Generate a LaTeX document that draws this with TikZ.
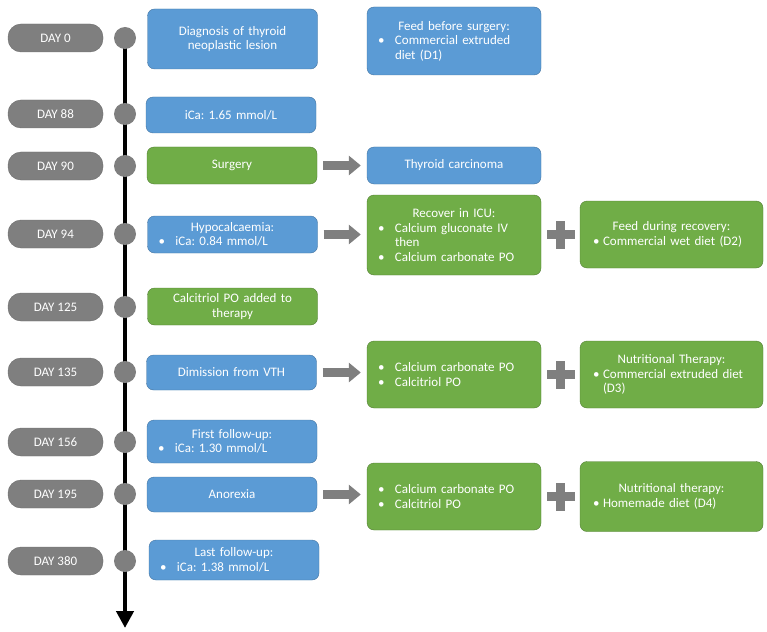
\documentclass[tikz,border=0pt]{standalone}
\usepackage{fontspec}
\setmainfont{Carlito}
\usepackage{tikz,xcolor}
\usetikzlibrary{positioning,calc,arrows.meta}
\frenchspacing

\definecolor{boxblue}{HTML}{5B9BD5}
\definecolor{boxgreen}{HTML}{70AD47}
\definecolor{dgrey}{HTML}{7F7F7F}

\newcommand{\ttl}[1]{\hfill#1\hfill\null}
\newcommand{\itm}{\hspace*{3pt}\makebox[17pt][l]{\textbullet}}
\newcommand{\bcont}{\hspace*{20pt}}
\newcommand{\itmb}{\hspace*{5pt}\makebox[10pt][l]{\textbullet}}

\begin{document}
\begin{tikzpicture}[x=1pt, y=-1pt,
    font=\fontsize{13}{14.5}\selectfont,
    day/.style={fill=dgrey, draw=dgrey!85!black, rounded corners=13pt, minimum width=95pt, minimum height=28pt, text=white, inner sep=0pt},
    dot/.style={circle, fill=dgrey, minimum size=22pt, inner sep=0pt},
    bbox/.style={fill=boxblue, draw=boxblue!75!black, rounded corners=7pt, text=white, align=center, inner xsep=8pt, inner ysep=2pt},
    gbox/.style={bbox, fill=boxgreen, draw=boxgreen!72!black},
    colA/.style={text width=154pt},
    colB/.style={text width=158pt},
    colC/.style={text width=167pt},
    blockarr/.style={draw=dgrey, line width=9pt, -{Triangle[length=12pt,width=19pt]}, shorten <=6pt, shorten >=6pt},
    timeline/.style={line width=4.5pt, -{Triangle[length=17pt,width=17pt]}},
    plussign/.pic={\fill[dgrey] (-14,-4.5) rectangle (14,4.5);
                   \fill[dgrey] (-4.5,-14) rectangle (4.5,14);}]
    \useasboundingbox (0,0) rectangle (767,631);

    % time axis
    \coordinate (tstart) at (125,38);
    \coordinate (tend) at (125,628);
    \draw[timeline] (tstart) -- (tend);

    \node[day] (day0) at (55.5,38) {DAY 0};
    \node[day] (day88) at (55.5,114) {DAY 88};
    \node[day] (day90) at (55.5,166) {DAY 90};
    \node[day] (day94) at (55.5,234) {DAY 94};
    \node[day] (day125) at (55.5,307) {DAY 125};
    \node[day] (day135) at (55.5,372) {DAY 135};
    \node[day] (day156) at (55.5,442) {DAY 156};
    \node[day] (day195) at (55.5,494) {DAY 195};
    \node[day] (day380) at (55.5,561) {DAY 380};

    \node[dot] (dot0) at (125,38) {};
    \node[dot] (dot88) at (125,114) {};
    \node[dot] (dot90) at (125,166) {};
    \node[dot] (dot94) at (125,234) {};
    \node[dot] (dot125) at (125,307) {};
    \node[dot] (dot135) at (125,372) {};
    \node[dot] (dot156) at (125,442) {};
    \node[dot] (dot195) at (125,494) {};
    \node[dot] (dot380) at (125,561) {};

    % events
    \node[bbox, colA, minimum height=60pt] (diag) at (232.5,39) {Diagnosis of thyroid\\ neoplastic lesion};
    \node[bbox, colA, minimum height=36pt] (ica) at (231,115) {iCa: 1.65 mmol/L};
    \node[gbox, colA, minimum height=37pt] (surg) at (232,165.5) {Surgery};
    \node[bbox, colA, minimum height=37pt, align=left] (hypo) at (232.5,234.5) {\ttl{Hypocalcaemia:}\\ \itm iCa: 0.84 mmol/L};
    \node[gbox, colA, minimum height=37pt] (calc) at (232.5,306.5) {Calcitriol PO added to\\ therapy};
    \node[bbox, colA, minimum height=35pt] (dim) at (231.5,372.5) {Dimission from VTH};
    \node[bbox, colA, minimum height=43pt, align=left] (fup1) at (232,441.5) {\ttl{First follow-up:}\\ \itm iCa: 1.30 mmol/L};
    \node[bbox, colA, minimum height=35pt] (anor) at (232,494.5) {Anorexia};
    \node[bbox, colA, minimum height=40pt, align=left] (fup2) at (234,560) {\ttl{Last follow-up:}\\ \itm iCa: 1.38 mmol/L};

    \node[bbox, colB, minimum height=68pt, align=left] (feed1) at (454,41) {\ttl{Feed before surgery:}\\ \itm Commercial extruded\\ \bcont diet (D1)};
    \node[bbox, colB, minimum height=37pt] (thyr) at (454,165.5) {Thyroid carcinoma};
    \node[gbox, colB, minimum height=80pt, align=left] (icu) at (454,235) {\ttl{Recover in ICU:}\\ \itm Calcium gluconate IV\\ \bcont then\\ \itm Calcium carbonate PO};
    \node[gbox, colB, minimum height=67pt, align=left] (trt1) at (454,374.5) {\itm Calcium carbonate PO\\ \itm Calcitriol PO};
    \node[gbox, colB, minimum height=67pt, align=left] (trt2) at (454,496.5) {\itm Calcium carbonate PO\\ \itm Calcitriol PO};

    \node[gbox, colC, minimum height=67pt, align=left] (feed2) at (671.5,234.5) {\ttl{Feed during recovery:}\\ \itmb Commercial wet diet (D2)};
    \node[gbox, colC, minimum height=67pt, align=left] (nut1) at (671.5,374.5) {\ttl{Nutritional Therapy:}\\ \itmb Commercial extruded diet\\ \hspace*{15pt}(D3)};
    \node[gbox, colC, minimum height=70pt, align=left] (nut2) at (671.5,496.5) {\ttl{Nutritional therapy:}\\ \itmb Homemade diet (D4)};

    % arrows
    \draw[blockarr] (surg.east) -- (thyr.west);
    \draw[blockarr] (hypo.east) -- (hypo.east -| icu.west);
    \draw[blockarr] (dim.east) -- (dim.east -| trt1.west);
    \draw[blockarr] (anor.east) -- (anor.east -| trt2.west);

    % plus signs
    \pic at ($(icu.east)!0.5!(feed2.west)$) {plussign};
    \pic at ($(trt1.east)!0.5!(nut1.west)$) {plussign};
    \pic at ($(trt2.east)!0.5!(nut2.west)$) {plussign};
\end{tikzpicture}
\end{document}
